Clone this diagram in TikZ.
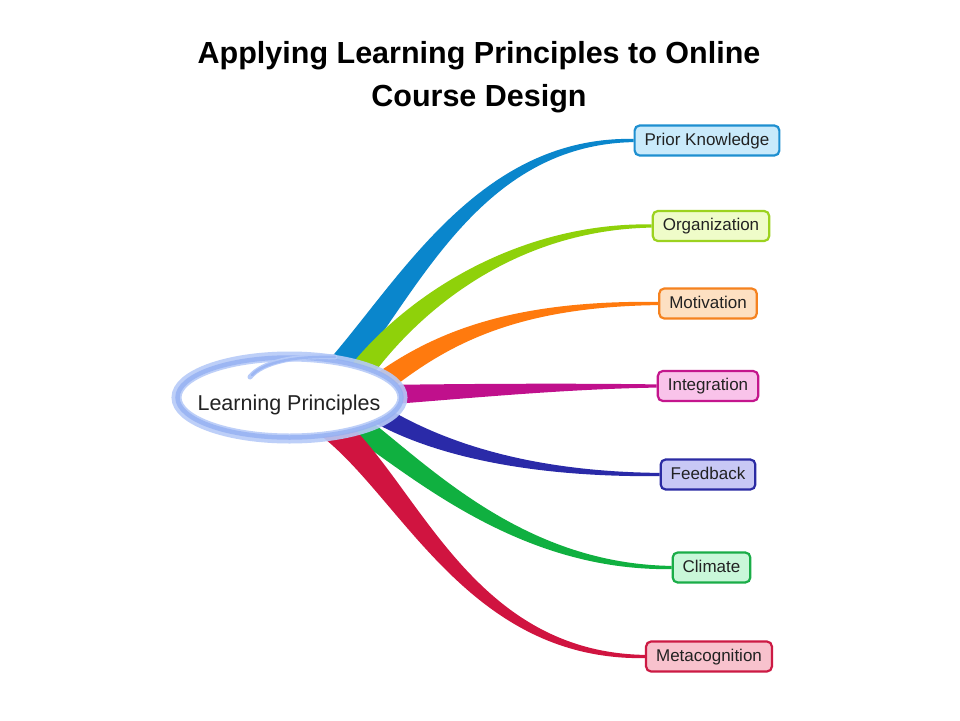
\documentclass[tikz,border=0pt]{standalone}
\usepackage{fontspec}
\setmainfont{Liberation Sans}
\usetikzlibrary{calc,backgrounds}
\definecolor{cPK}{HTML}{0A86CC}
\definecolor{cOR}{HTML}{8FD10A}
\definecolor{cMO}{HTML}{FF7A0E}
\definecolor{cIN}{HTML}{C0108C}
\definecolor{cFB}{HTML}{2A2AA8}
\definecolor{cCL}{HTML}{10B040}
\definecolor{cME}{HTML}{D01440}
\definecolor{bPK}{HTML}{1E8FD0}\definecolor{fPK}{HTML}{C9EAFB}
\definecolor{bOR}{HTML}{9CD21F}\definecolor{fOR}{HTML}{EFFCC9}
\definecolor{bMO}{HTML}{F5821F}\definecolor{fMO}{HTML}{FDE0C2}
\definecolor{bIN}{HTML}{C4168D}\definecolor{fIN}{HTML}{F9C3EA}
\definecolor{bFB}{HTML}{2B2BA3}\definecolor{fFB}{HTML}{C8C8F5}
\definecolor{bCL}{HTML}{1AAD48}\definecolor{fCL}{HTML}{C9F7D9}
\definecolor{bME}{HTML}{CC1A44}\definecolor{fME}{HTML}{F8C2CD}
\definecolor{ringA}{HTML}{B6CAF8}
\definecolor{ringB}{HTML}{92AEF2}
\definecolor{txt}{HTML}{222222}
% tapered ribbon: colour, start, control1, control2, end, half widths h0 h1 h2
\newcommand\ribbon[8]{%
  \fill[#1] ($(#2)!#6!90:(#3)$) .. controls ($(#3)!#7!-90:(#2)$) and ($(#4)!#8!90:(#5)$) .. ($(#5)!1.6pt!-90:(#4)$)
    -- ($(#5)!1.6pt!90:(#4)$) .. controls ($(#4)!#8!-90:(#5)$) and ($(#3)!#7!90:(#2)$) .. ($(#2)!#6!-90:(#3)$) -- cycle;}
\begin{document}
\begin{tikzpicture}[x=1pt,y=-1pt,
  box/.style={draw, rounded corners=5pt, line width=2.2pt, inner xsep=10pt, inner ysep=0pt,
    minimum height=30pt, text height=12.5pt, text depth=3.5pt,
    font=\fontsize{17}{20}\selectfont, text=txt},
  titletext/.style={anchor=base, font=\bfseries\fontsize{30.5}{36}\selectfont, text=black, inner sep=0pt},
  ring/.style={line width=10pt, draw=ringA},
  ringcore/.style={line width=4.5pt, draw=ringB}]
\useasboundingbox (0,0) rectangle (960,720);
% title
\node[titletext] (t1) at (479,63.3) {Applying Learning Principles to Online};
\node[titletext] (t2) at (479,106) {Course Design};
% boxes
\node[box, draw=bPK, fill=fPK] (pk)  at (707,140.5) {Prior Knowledge};
\node[box, draw=bOR, fill=fOR] (org) at (711,226) {Organization};
\node[box, draw=bMO, fill=fMO] (mot) at (708,303.5) {Motivation};
\node[box, draw=bIN, fill=fIN] (int) at (708,386) {Integration};
\node[box, draw=bFB, fill=fFB] (fb)  at (708,474.5) {Feedback};
\node[box, draw=bCL, fill=fCL] (cli) at (711.5,567.5) {Climate};
\node[box, draw=bME, fill=fME] (met) at (709,656.5) {Metacognition};
% centre
\coordinate (c) at (289.5,397.5);
\begin{pgfonlayer}{background}
\fill[white] (0,0) rectangle (960,720);
\coordinate (s1) at (330,380); \coordinate (a1) at (405,295); \coordinate (b1) at (475,140.5);
\ribbon{cPK}{s1}{a1}{b1}{pk.west}{14pt}{12pt}{4.5pt}
\coordinate (s2) at (350,386); \coordinate (a2) at (410,300); \coordinate (b2) at (520,226);
\ribbon{cOR}{s2}{a2}{b2}{org.west}{12pt}{10pt}{3.8pt}
\coordinate (s3) at (370,392); \coordinate (a3) at (435,340); \coordinate (b3) at (510,303.5);
\ribbon{cMO}{s3}{a3}{b3}{mot.west}{11pt}{9.5pt}{3.5pt}
\coordinate (s4) at (380,395); \coordinate (a4) at (450,392); \coordinate (b4) at (560,386);
\ribbon{cIN}{s4}{a4}{b4}{int.west}{10pt}{8pt}{3pt}
\coordinate (s5) at (375,412); \coordinate (a5) at (430,445); \coordinate (b5) at (520,474.5);
\ribbon{cFB}{s5}{a5}{b5}{fb.west}{9.5pt}{8.5pt}{3pt}
\coordinate (s6) at (350,420); \coordinate (a6) at (420,470); \coordinate (b6) at (520,567.5);
\ribbon{cCL}{s6}{a6}{b6}{cli.west}{12pt}{10pt}{3.8pt}
\coordinate (s7) at (330,425); \coordinate (a7) at (410,490); \coordinate (b7) at (470,656.5);
\ribbon{cME}{s7}{a7}{b7}{met.west}{14pt}{12pt}{4.5pt}
\end{pgfonlayer}
% central ellipse
\fill[white] (c) ellipse [x radius=113pt, y radius=41pt];
\draw[ring, opacity=0.9] (c) ellipse [x radius=113pt, y radius=41pt];
\draw[ringcore, opacity=0.75] (c) ellipse [x radius=112pt, y radius=40pt];
\draw[ring, line width=5pt, line cap=round] (250,377) .. controls (262,362) and (295,355) .. (335,357);
\draw[ringcore, line width=2.5pt, line cap=round, opacity=0.7] (252,375) .. controls (264,362) and (295,356) .. (335,357);
\node[anchor=base, inner sep=0pt, text=txt, font=\fontsize{21.5}{24}\selectfont] (lp) at (289,410) {Learning Principles};
\end{tikzpicture}
\end{document}
